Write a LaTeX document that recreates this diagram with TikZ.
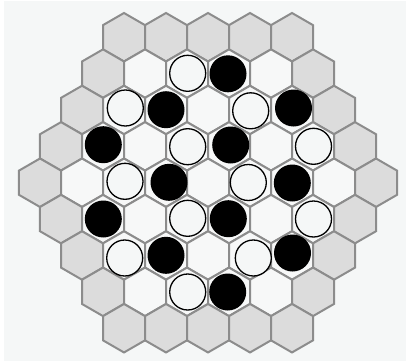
\documentclass[tikz,border=0pt]{standalone}
\usetikzlibrary{calc}
\definecolor{bgc}{HTML}{F5F7F7}
\definecolor{edgec}{HTML}{DCDCDC}
\definecolor{innc}{HTML}{F7F8F8}
\definecolor{hexc}{HTML}{8C8C8C}
\tikzset{
  hexline/.style={draw=hexc, line width=2pt, line join=miter},
  stonew/.style={circle, draw=black, fill=bgc, line width=1.3pt, minimum size=36pt, inner sep=0pt},
  stoneb/.style={circle, fill=black, minimum size=37pt, inner sep=0pt},
}
\begin{document}
\begin{tikzpicture}[x=1pt,y=-1pt]
\useasboundingbox (0,0) rectangle (406,361);
\fill[white] (0,0) rectangle (406,361);
\fill[bgc] (4,1) rectangle (406,361);
\def\R{24.25}
\foreach \r/\n in {0/5,1/6,2/7,3/8,4/9,5/8,6/7,7/6,8/5}{
  \pgfmathtruncatemacro\last{\n-1}
  \foreach \i in {0,...,\last}{
    \pgfmathsetmacro\cx{208+(\i-(\n-1)/2)*42}
    \pgfmathsetmacro\cy{37.25+\r*36.37}
    \pgfmathtruncatemacro\edge{or(or(\r==0,\r==8),or(\i==0,\i==\last))}
    \ifnum\edge=1 \def\fc{edgec}\else\def\fc{innc}\fi
    \draw[hexline, fill=\fc] (\cx,\cy) +(30:\R) -- +(90:\R) -- +(150:\R) -- +(210:\R) -- +(270:\R) -- +(330:\R) -- cycle;
  }
}
% white stones
\foreach \x/\y [count=\k] in {187.7/73.3,125.3/108,250.7/110.8,187.7/146.7,313.5/146.3,125/181.3,248.3/182.5,187.7/218.3,313.5/219,124.7/258,253.3/258,187.7/292}
  \node[stonew] (w\k) at (\x,\y) {};
% black stones
\foreach \x/\y [count=\k] in {228/73.8,166/109.7,293.5/108,103.3/144.7,230.7/145,169/182.3,292.3/183,103.3/219,228.3/218.7,166/255.3,292.5/253,227.7/292}
  \node[stoneb] (b\k) at (\x,\y) {};
\end{tikzpicture}
\end{document}
